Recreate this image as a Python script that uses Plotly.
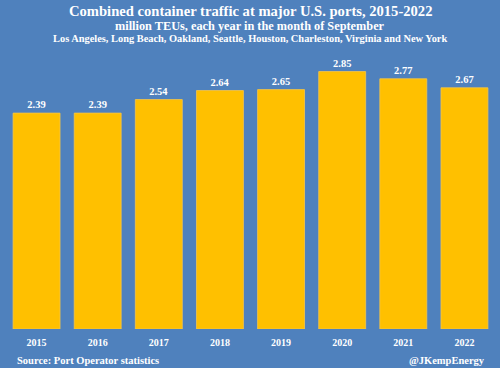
import plotly.graph_objects as go

years = ["2015", "2016", "2017", "2018", "2019", "2020", "2021", "2022"]
teus = [2.39, 2.39, 2.54, 2.64, 2.65, 2.85, 2.77, 2.67]

title_1 = "Combined container traffic at major U.S. ports, 2015-2022"
title_2 = "million TEUs, each year in the month of September"
title_3 = "Los Angeles, Long Beach, Oakland, Seattle, Houston, Charleston, Virginia and New York"
source = "Source: Port Operator statistics"
credit = "@JKempEnergy"

BG = "#4f81bd"
BAR = "#ffc000"
FONT = "Liberation Serif"

fig = go.Figure(go.Bar(
    x=years, y=teus,
    marker=dict(color=BAR, line=dict(color="#f5c54a", width=0.8)),
    texttemplate="<b>%{y:.2f}</b>", textposition="outside",
    textfont=dict(family=FONT, size=10.5, color="white"),
    cliponaxis=False,
))

L, R = 6.2, 495.4
H = 271.0
BOT = 329.3
def py(pix):
    return (BOT - pix) / H
def px(pix):
    return (pix - L) / (R - L)

anns = [
    dict(text="<b>" + title_1 + "</b>", y=py(11), size=14.6),
    dict(text="<b>" + title_2 + "</b>", y=py(26), size=12.3),
    dict(text="<b>" + title_3 + "</b>", y=py(38.5), size=10.4),
]
annotations = []
for a in anns:
    annotations.append(dict(text=a["text"], x=px(250.5), y=a["y"], xref="paper", yref="paper",
                            xanchor="center", yanchor="middle", showarrow=False,
                            font=dict(family=FONT, size=a["size"], color="white")))
annotations.append(dict(text="<b>" + source + "</b>", x=px(15), y=py(361), xref="paper", yref="paper",
                        xanchor="left", yanchor="middle", showarrow=False,
                        font=dict(family=FONT, size=10.5, color="white")))
annotations.append(dict(text="<b>" + credit + "</b>", x=px(487), y=py(361),
                        xref="paper", yref="paper", xanchor="right", yanchor="middle", showarrow=False,
                        font=dict(family=FONT, size=10.5, color="white")))

fig.update_layout(
    width=500, height=368,
    margin=dict(l=6, r=5, t=58, b=39),
    paper_bgcolor=BG, plot_bgcolor=BG,
    bargap=0.232,
    showlegend=False,
    annotations=annotations,
    xaxis=dict(showgrid=False, showline=False, ticks="", zeroline=False, ticklabelstandoff=6,
               tickfont=dict(family=FONT, size=10, color="white", weight="bold")),
    yaxis=dict(range=[0, 3.0], visible=False, showgrid=False, zeroline=False),
)

fig.write_html("out.html", config={"displayModeBar": False},
               post_script="document.body.style.margin='0';document.body.style.overflow='hidden';")
